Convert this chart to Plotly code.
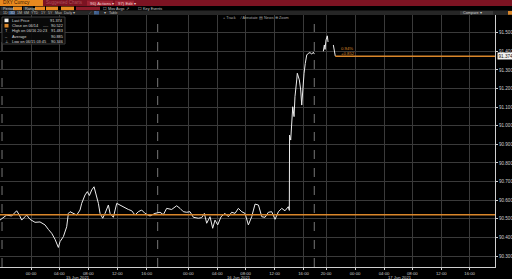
import plotly.graph_objects as go

# ---------------- data ----------------
# x: trading-hour index (0 = 15 Jun 2021 00:00 label); None = gap
hours = [-4.28, -3.82, -3.36, -2.67, -2.21, -1.98, -1.61, -1.29, -0.83, -0.60, -0.14, 0.55, 1.24, 1.93,
         2.39, 2.85, 3.31, 3.77, 4.00, 4.46, 4.92, 5.15, 5.38, 5.84, 6.30, 6.76, 6.99, 7.45, 7.77, 8.05,
         8.37, 8.69, 8.97, 9.29, 9.52, 9.89, 10.21, 10.67, 10.90, 11.36, 11.82, 12.28, 12.74, 13.42,
         13.89, 14.34, 14.80, 15.26, 15.72, 16.18, 16.41, 17.10, 17.79, 18.25, 18.71, 19.40, 20.09,
         20.55, 21.01, 21.47, 21.93, 22.39, 23.08, 23.54, 23.91, 24.23, 24.69, 25.06, 25.38, 25.75,
         26.21, 26.76, 27.22, 27.68, 28.14, 28.60, 29.06, 29.52, 29.98, 30.44, 30.90, 31.37, 31.83,
         32.28, 32.74, 33.20, 33.66, 34.12, 34.58, 35.03, 35.49, 35.63, 35.66, 35.82, 35.96, 36.10,
         36.28, 36.41, 36.65, 36.73, 37.01, 37.20, 37.34, 37.48, 37.66, 37.83, 38.03, 38.25, 38.48,
         38.72, 38.94, 39.08, 39.5, 40.32, 40.46, 40.55, 40.69, 40.87, 40.97, 41.3, 41.70, 41.83, 41.97]
prices = [90.493, 90.508, 90.520, 90.515, 90.538, 90.543, 90.520, 90.493, 90.511, 90.520, 90.497, 90.481,
          90.483, 90.467, 90.443, 90.422, 90.390, 90.346, 90.377, 90.404, 90.457, 90.529, 90.538, 90.530,
          90.520, 90.547, 90.583, 90.628, 90.646, 90.625, 90.655, 90.672, 90.630, 90.583, 90.529, 90.503,
          90.529, 90.574, 90.529, 90.508, 90.583, 90.574, 90.561, 90.550, 90.543, 90.520, 90.538, 90.547,
          90.529, 90.520, 90.515, 90.529, 90.535, 90.522, 90.556, 90.550, 90.570, 90.556, 90.538, 90.535,
          90.538, 90.508, 90.503, 90.506, 90.529, 90.476, 90.511, 90.449, 90.493, 90.467, 90.511, 90.529,
          90.511, 90.535, 90.529, 90.556, 90.538, 90.529, 90.467, 90.511, 90.579, 90.574, 90.511, 90.508,
          90.535, 90.538, 90.497, 90.538, 90.556, 90.543, 90.565, 90.545, 90.950, 90.923, 91.013, 91.102,
          91.049, 91.156, 91.246, 91.282, 91.246, 91.192, 91.111, 91.192, 91.282, 91.335, 91.380, 91.389,
          91.393, 91.385, 91.395, 91.385, None, 91.400, 91.434, 91.410, 91.461, 91.483, 91.450, None,
          91.434, 91.405, 91.374]

last_price = 91.374
prev_close = 90.522
last_start = 41.97

tick_hours = [0, 3.9, 7.9, 11.9, 15.96, 21.7, 25.7, 29.6, 33.6, 37.6, 40.7, 44.7, 48.7, 52.6, 56.6, 60.5]
tick_labels = ["00:00", "04:00", "08:00", "12:00", "16:00", "00:00", "04:00", "08:00", "12:00", "16:00",
               "20:00", "00:00", "04:00", "08:00", "12:00", "16:00"]
session_breaks = [-4.0, 17.47, 39.07]
date_labels = ["15 Jun 2021", "16 Jun 2021", "17 Jun 2021"]
date_hours = [6.5, 28.7, 50.9]
y_ticks = [90.3, 90.4, 90.5, 90.6, 90.7, 90.8, 90.9, 91.0, 91.1, 91.2, 91.3, 91.4, 91.5]

legend_names = ["Last Price", "Close on 06/14", "High on 06/16 20:23", "Average", "Low on 06/15 03:45"]
legend_values = ["91.374", "90.522", "91.483", "90.885", "90.346"]
change_pct = "0.94%"
change_abs = "+0.852"

# ---------------- layout helpers ----------------
W, H = 512, 279
L, R, T, B = 0, 17, 15, 12
PW, PH = W - L - R, H - T - B


def px(x):
    return (x - L) / PW


def py(y):
    return (H - B - y) / PH


FONT = "Liberation Sans, Arial, sans-serif"
ORANGE = "#d9862a"
GRID = "#3a3a3a"

fig = go.Figure()
fig.add_trace(go.Scatter(x=hours, y=prices, mode="lines", connectgaps=False,
                         line=dict(color="#ececec", width=1), hoverinfo="skip", showlegend=False))

shapes = []
annos = []

# reference lines
shapes.append(dict(type="line", xref="x", yref="y", x0=-4.28, x1=64.0, y0=prev_close, y1=prev_close,
                   line=dict(color=ORANGE, width=1.5)))
shapes.append(dict(type="line", xref="x", yref="y", x0=last_start, x1=64.0, y0=last_price, y1=last_price,
                   line=dict(color=ORANGE, width=1.5)))
for sb in session_breaks:
    shapes.append(dict(type="line", xref="x", yref="paper", x0=sb, x1=sb, y0=0, y1=1,
                       line=dict(color="#777777", width=1, dash="dash"), layer="below"))


def rect(x0, y0, x1, y1, color, line=None):
    shapes.append(dict(type="rect", xref="paper", yref="paper", x0=px(x0), x1=px(x1), y0=py(y1), y1=py(y0),
                       fillcolor=color, line=dict(width=0) if line is None else line, layer="above"))


def text(x, y, s, color="#cfcfcf", size=4.5, anchor="left", bg=None):
    annos.append(dict(xref="paper", yref="paper", x=px(x), y=py(y), text=s, showarrow=False,
                      xanchor=anchor, yanchor="middle", font=dict(family=FONT, size=size, color=color),
                      bgcolor=bg, borderpad=0))


# header row 1
rect(0, 0, 512, 6, "#7c1322")
rect(0, 0, 43, 6, "#e8891f")
text(2, 3, "DXY Curncy", "#3a1800", 4.8)
text(45, 3, "Suggested Charts", "#b0505c", 4.5)
rect(87, 0.6, 113, 5.6, "#9c2232")
text(89, 3.1, "96) Actions ▾", "#f0d0d0", 4.3)
rect(115, 0.6, 134, 5.6, "#9c2232")
text(117, 3.1, "97) Edit ▾", "#f0d0d0", 4.3)

# row 2
rect(0, 6.3, 512, 10.5, "#000000")
rect(0.5, 6.6, 12.5, 10.3, "#2e2e2e")
text(1.5, 8.5, "Period", "#c8c8c8", 3.8)
rect(13, 6.6, 22, 10.3, "#e8891f")
rect(23, 6.6, 33, 10.3, "#2e2e2e")
text(23.5, 8.5, "Range", "#c8c8c8", 3.8)
rect(35, 6.6, 45, 10.3, "#e8891f")
rect(46, 6.6, 58, 10.3, "#e8891f")
rect(61, 6.6, 74, 10.3, "#e8891f")
rect(76, 6.6, 100, 10.3, "#8c1c2a")
text(102, 8.5, "☐ Mov Avgs ↗", "#c8c8c8", 3.8)
text(137, 8.5, "☐ Key Events", "#c8c8c8", 3.8)

# row 3
rect(0, 10.5, 512, 15, "#262626")
items = [(2, "1D"), (9, "3D"), (16, "1M"), (23, "6M"), (30, "YTD"), (40, "1Y"), (47, "5Y"), (54, "Max"),
         (63, "Daily ▾")]
rect(8.5, 11, 15, 14.5, "#3b5c8c")
for x, s in items:
    text(x, 12.8, s, "#bfbfbf", 3.6)
rect(94, 11, 99, 14.5, "#3b5c8c")
text(88, 12.8, "⟋  ⎍", "#bfbfbf", 3.6)
text(103, 12.8, "▾", "#bfbfbf", 3.6)
text(108, 12.8, "Table", "#bfbfbf", 3.6)
rect(460, 11, 493, 14.7, "#3a3a3a")
text(462, 12.8, "Compare ▾", "#cfcfcf", 3.8)
rect(508, 11, 512, 14.7, ORANGE)

# toolbar inside plot
for x, s in [(222, "+ Track"), (239, "⁄ Annotate"), (258, "▤ News"), (274, "⊕ Zoom")]:
    text(x, 18.2, s, "#a8a8a8", 3.8)

# legend box
rect(2, 17, 65, 44, "rgba(10,10,10,0.9)", line=dict(color="#3c3c3c", width=1))
rows = [20.3, 25.6, 30.8, 36.0, 41.2]
rect(4.5, 18.6, 8.5, 22.2, "#f0f0f0")
rect(4.5, 23.9, 8.5, 27.5, ORANGE)
text(6.5, rows[2], "T", "#d0d0d0", 4.0, "center")
text(6.5, rows[3], "–", "#d0d0d0", 4.0, "center")
text(6.5, rows[4], "⊥", "#d0d0d0", 4.0, "center")
for r, n, v in zip(rows, legend_names, legend_values):
    text(10.5, r, n, "#d8d8d8", 3.9)
    text(63.5, r, v, "#d8d8d8", 3.9, "right")
text(42, rows[1], "----", "#d8d8d8", 3.9)

# change labels near last price
annos.append(dict(xref="x", yref="y", x=last_start + 0.5, y=last_price + 0.04, text=change_pct,
                  showarrow=False, xanchor="left", yanchor="middle",
                  font=dict(family=FONT, size=4.3, color=ORANGE)))
annos.append(dict(xref="x", yref="y", x=last_start + 0.5, y=last_price + 0.012, text=change_abs,
                  showarrow=False, xanchor="left", yanchor="middle",
                  font=dict(family=FONT, size=4.3, color=ORANGE)))
# last price tag on axis
annos.append(dict(xref="paper", yref="y", x=px(497), y=last_price, text=f"{last_price:.3f}", showarrow=False,
                  xanchor="left", yanchor="middle", bgcolor="#f2f2f2", borderpad=0.5,
                  font=dict(family=FONT, size=4.6, color="#111111")))

# date labels
for dh, dl in zip(date_hours, date_labels):
    annos.append(dict(xref="x", yref="paper", x=dh, y=py(277.3), text=dl, showarrow=False,
                      xanchor="center", yanchor="middle", font=dict(family=FONT, size=4.2, color="#cfcfcf")))

fig.update_layout(
    width=W, height=H, margin=dict(l=L, r=R, t=T, b=B),
    paper_bgcolor="#000000", plot_bgcolor="#000000",
    shapes=shapes, annotations=annos, showlegend=False,
    xaxis=dict(range=[-4.28, 64.0], tickmode="array", tickvals=tick_hours, ticktext=tick_labels,
               showgrid=True, gridcolor=GRID, gridwidth=1, zeroline=False,
               showline=True, linecolor="#cfcfcf", linewidth=1, ticks="outside", ticklen=1.5,
               tickcolor="#cfcfcf", tickfont=dict(family=FONT, size=4.3, color="#cfcfcf")),
    yaxis=dict(range=[90.2409, 91.595], side="right", tickmode="array", tickvals=y_ticks,
               tickformat=".3f", showgrid=True, gridcolor=GRID, gridwidth=1, zeroline=False,
               showline=True, linecolor="#cfcfcf", linewidth=1, ticks="outside", ticklen=2,
               tickcolor="#cfcfcf", tickfont=dict(family=FONT, size=4.6, color="#cfcfcf")),
)

fig.write_html("out.html")
